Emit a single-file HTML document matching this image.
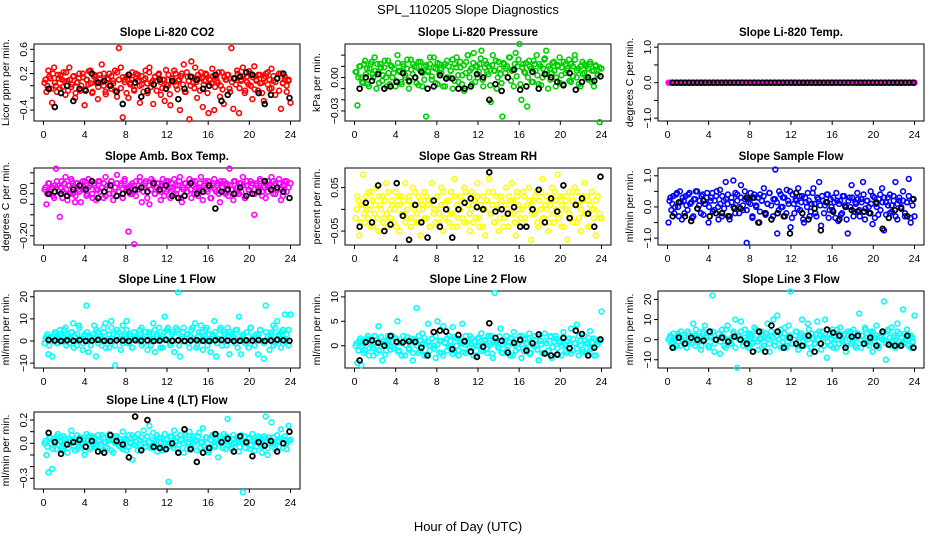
<!DOCTYPE html>
<html><head><meta charset="utf-8"><style>
html,body{margin:0;padding:0;background:#fff;}
svg{display:block;font-family:"Liberation Sans",Arial,sans-serif;}
</style></head><body>
<svg id="c" width="936" height="540" viewBox="0 0 936 540" xmlns="http://www.w3.org/2000/svg">
<rect width="936" height="540" fill="#fff"/>
<text x="468" y="14" text-anchor="middle" font-size="13">SPL_110205  Slope Diagnostics</text>
<text x="468" y="531" text-anchor="middle" font-size="13">Hour of Day (UTC)</text>
</svg>
<script>
const xTicks=[0,4,8,12,16,20,24];
const titles=["Slope Li-820 CO2","Slope Li-820 Pressure","Slope Li-820 Temp.","Slope Amb. Box Temp.","Slope Gas Stream RH","Slope Sample Flow","Slope Line 1 Flow","Slope Line 2 Flow","Slope Line 3 Flow","Slope Line 4 (LT) Flow"];
const yTitles=["Licor ppm per min.","kPa per min.","degrees C per min.","degrees C per min.","percent per min.","ml/min per min.","ml/min per min.","ml/min per min.","ml/min per min.","ml/min per min."];
const colors=["#ff0000","#00cd00","#ff00ff","#ff00ff","#ffff00","#0000ff","#00ffff","#00ffff","#00ffff","#00ffff"];
const yDomains=[[-0.58,0.687],[-0.039,0.03],[-1.08,1.09],[-0.244,0.123],[-0.082,0.095],[-1.22,1.25],[-12.2,22.6],[-4.56,11.2],[-14.1,24.2],[-0.392,0.269]];
const yTickVals=[[-0.4,-0.2,0,0.2,0.4,0.6],[-0.03,-0.02,-0.01,0,0.01,0.02],[-1,-0.5,0,0.5,1],[-0.2,-0.15,-0.1,-0.05,0,0.05,0.1],[-0.05,0,0.05],[-1,-0.5,0,0.5,1],[-10,0,10,20],[0,5,10],[-10,0,10,20],[-0.3,-0.2,-0.1,0,0.1,0.2]];
const yTickLabels=[{"-0.4":"\u22120.4","0.2":"0.2","0.6":"0.6"},{"-0.03":"\u22120.03","0":"0.00"},{"-1":"\u22121.0","0":"0.0","1":"1.0"},{"-0.2":"\u22120.20","0":"0.00"},{"-0.05":"\u22120.05","0.05":"0.05"},{"-1":"\u22121.0","0":"0.0","1":"1.0"},{"-10":"\u221210","0":"0","10":"10","20":"20"},{"0":"0","5":"5","10":"10"},{"-10":"\u221210","0":"0","10":"10","20":"20"},{"-0.3":"\u22120.3","0":"0.0","0.2":"0.2"}];

const co2=[0.05,-0.1,0.25,0.12,-0.28,0.3,0.0,0.18,-0.05,0.1,0.22,-0.15,0.08,0.3,-0.02,0.15,-0.2,0.05,0.12,-0.08,0.2,-0.32,0.1,0.02,0.25,-0.12,0.15,0.05,-0.22,0.18,0.35,0.0,-0.1,0.12,0.2,-0.05,0.08,0.25,-0.18,0.62,0.3,-0.52,0.1,0.15,-0.2,0.05,0.22,-0.08,0.12,0.18,-0.28,0.02,0.1,0.25,-0.12,0.3,0.05,-0.3,0.15,0.08,0.2,-0.15,0.1,-0.25,0.02,0.18,-0.32,0.12,0.25,0.0,0.08,-0.4,0.2,0.35,-0.1,0.15,-0.55,0.4,0.05,0.3,-0.2,0.12,0.22,-0.35,0.08,0.18,-0.45,0.1,0.28,-0.4,0.15,0.05,-0.18,0.22,-0.3,0.1,0.18,-0.05,0.62,-0.38,0.12,0.25,-0.45,0.08,0.3,-0.12,0.15,0.02,0.2,-0.22,0.32,0.1,-0.08,0.18,0.05,-0.25,0.15,0.22,-0.05,0.28,0.08,-0.15,0.12,0.2,-0.38,0.05,0.15,-0.1,0.1,-0.28];
const co2B=[0.1,0.0,0.15,-0.05,0.2,0.05,-0.1,0.12,0.18,-0.02,0.08,0.22,-0.08,0.1,0.02,0.16,-0.12,0.06,0.2,0.0,0.14,-0.06,0.1,0.24,0.04,-0.1,0.18,0.08,-0.02,0.12,0.06,0.2,-0.14,0.1,0.0,0.16,0.04,-0.08,0.22,0.1,-0.04,0.14,0.06,-0.12,0.18,0.02,0.1,-0.06,0.2,0.08,0.0,0.16,-0.1,0.12,0.04,0.22,-0.02,0.08,0.14,-0.08,0.18,0.06,-0.04,0.1,0.26,0.0,-0.14,0.12,0.06,0.2,-0.06,0.1,0.16,0.02,-0.1,0.22,0.08,0.0,0.14,-0.04,0.06,0.18,-0.08,0.12,0.02,0.2,-0.12,0.1,0.04,0.16,-0.02,0.08,0.22,0.0,-0.06,0.14,0.1,0.18,-0.1,0.06,0.12,0.02,0.2,-0.04,0.1,0.16,-0.08,0.06,0.24,0.0,0.14,-0.06,0.08,0.18,0.04,-0.12,0.12,0.2,0.02,0.1,-0.04,0.16,0.06,0.12,-0.08,0.2,0.04,0.1,0.0,0.08];
const co2Black=[-0.05,-0.35,-0.12,0.0,-0.25,-0.05,-0.08,0.2,0.05,0.08,0.0,-0.1,-0.3,0.18,0.05,-0.18,-0.08,0.02,0.1,-0.05,0.08,-0.22,-0.05,0.15,0.1,-0.05,0.0,0.18,-0.25,-0.15,0.12,0.15,0.22,0.18,-0.12,-0.3,-0.15,0.12,0.2,-0.2];
const pres=[0.005,-0.025,0.01,0.0,-0.005,0.015,0.008,-0.008,0.012,0.003,0.018,-0.01,0.005,0.012,-0.003,0.009,0.0,0.015,-0.006,0.01,0.004,-0.008,0.02,0.006,-0.004,0.012,0.0,0.008,-0.01,0.016,0.003,0.01,-0.005,0.014,0.006,-0.008,0.01,-0.035,0.005,0.012,-0.002,0.018,0.008,-0.006,0.012,0.004,0.01,-0.008,0.015,0.0,0.006,-0.01,0.012,0.018,-0.004,0.009,0.002,-0.012,0.014,0.02,0.006,-0.006,0.022,0.01,0.0,0.012,0.024,-0.008,0.015,0.005,0.01,-0.022,0.02,0.006,-0.01,0.014,0.003,-0.035,0.012,0.008,0.0,0.018,0.006,-0.008,0.022,0.01,0.03,-0.02,0.012,0.004,-0.026,0.015,0.008,-0.004,0.012,0.02,-0.006,0.01,0.0,0.016,0.024,-0.01,0.008,0.004,0.014,-0.008,0.01,0.018,0.002,-0.006,0.012,0.006,0.016,-0.004,0.01,0.02,0.0,0.008,-0.008,0.014,0.004,0.01,-0.002,0.012,0.006,-0.008,0.01,0.003,-0.04,0.008];
const presB=[0.005,0.0,0.01,-0.004,0.012,0.003,-0.006,0.008,0.014,0.0,0.006,0.012,-0.005,0.009,0.002,0.015,-0.008,0.004,0.011,0.0,0.008,-0.003,0.013,0.005,-0.006,0.01,0.002,0.016,-0.004,0.007,0.012,0.0,0.009,-0.007,0.014,0.004,-0.002,0.011,0.006,0.018,0.001,0.009,-0.005,0.013,0.004,0.008,-0.008,0.012,0.0,0.01,0.006,0.016,-0.003,0.009,0.002,0.014,-0.006,0.011,0.004,0.02,0.0,0.008,0.013,-0.004,0.01,0.005,0.017,-0.002,0.009,0.012,0.003,-0.007,0.011,0.006,0.015,0.0,0.008,-0.005,0.013,0.004,0.01,0.018,-0.003,0.007,0.012,0.001,0.016,-0.006,0.009,0.005,0.013,0.0,0.01,-0.004,0.015,0.006,0.002,0.012,-0.007,0.008,0.017,0.003,0.01,-0.002,0.013,0.006,0.0,0.011,-0.005,0.009,0.014,0.004,0.008,-0.003,0.012,0.001,0.016,0.006,-0.006,0.01,0.003,0.012,0.0,0.008,0.014,-0.004,0.006,0.011,0.002,0.009];
const presBlack=[-0.01,0.0,-0.003,0.003,-0.01,-0.008,-0.004,0.004,-0.003,0.0,0.005,-0.01,-0.008,0.002,-0.001,-0.001,-0.01,-0.01,-0.008,0.003,0.0,-0.02,-0.006,-0.012,0.0,0.007,-0.011,-0.008,0.005,-0.01,0.003,0.0,-0.004,-0.007,0.004,-0.011,-0.004,0.0,-0.003,0.001];
const tempLi=[0,0,0,0,0,0,0,0,0,0,0,0,0,0,0,0,0,0,0,0,0,0,0,0,0,0,0,0,0,0,0,0,0,0,0,0,0,0,0,0,0,0,0,0,0,0,0,0,0,0,0,0,0,0,0,0,0,0,0,0,0,0,0,0,0,0,0,0,0,0,0,0,0,0,0,0,0,0,0,0];
const tempLiB=[0,0,0,0,0,0,0,0,0,0,0,0,0,0,0,0,0,0,0,0,0,0,0,0,0,0,0,0,0,0,0,0,0,0,0,0,0,0,0,0,0,0,0,0,0,0,0,0,0,0,0,0,0,0,0,0,0,0,0,0,0,0,0,0,0,0,0,0,0,0,0,0,0,0,0,0,0,0,0,0];
const tempLiBlack=[0,0,0,0,0,0,0,0,0,0,0,0,0,0,0,0,0,0,0,0,0,0,0,0,0,0,0,0,0,0,0,0,0,0,0,0,0,0,0,0,0,0,0,0,0,0,0,0,0,0,0,0,0,0,0,0,0,0,0,0];
const amb=[0.02,-0.05,0.05,0.0,0.03,-0.02,0.12,0.04,-0.11,0.06,0.01,0.08,-0.03,0.04,0.07,0.0,-0.04,0.05,0.02,-0.04,0.06,0.03,-0.01,0.07,0.04,0.0,0.05,-0.03,0.02,0.06,0.03,-0.02,0.08,0.04,0.0,0.06,-0.03,0.03,0.09,0.01,0.05,-0.02,0.07,0.03,-0.18,0.04,0.0,-0.24,0.06,0.02,0.08,-0.04,0.03,0.06,0.01,-0.05,0.07,0.04,0.0,0.05,0.02,-0.03,0.07,0.04,0.01,0.06,-0.02,0.03,0.07,0.0,0.04,0.08,-0.04,0.02,0.05,0.01,0.07,-0.02,0.04,0.06,0.0,0.03,0.08,-0.03,0.05,0.02,0.06,-0.02,0.04,0.07,0.01,0.05,-0.04,0.03,0.06,0.0,0.04,0.12,0.02,-0.03,0.06,0.03,0.0,0.05,0.08,-0.02,0.04,0.02,0.06,0.0,-0.1,0.05,0.03,0.07,0.01,0.04,-0.02,0.06,0.03,0.08,0.0,0.05,0.02,0.07,-0.03,0.04,0.06,0.01,0.03,0.05];
const ambB=[0.03,0.0,0.05,0.02,-0.01,0.04,0.06,0.01,0.03,-0.02,0.05,0.02,0.04,0.0,0.06,0.03,-0.01,0.05,0.01,0.04,0.02,0.06,0.0,0.03,0.05,-0.02,0.04,0.02,0.06,0.01,0.03,0.05,-0.01,0.04,0.02,0.06,0.0,0.03,0.05,0.01,0.04,-0.02,0.06,0.02,0.03,0.0,0.05,0.04,-0.01,0.02,0.06,0.03,0.01,0.05,-0.02,0.04,0.02,0.06,0.0,0.03,0.05,0.01,0.04,-0.01,0.06,0.02,0.03,0.05,0.0,0.04,0.02,0.06,-0.02,0.03,0.05,0.01,0.04,0.02,0.06,0.0,0.03,-0.01,0.05,0.02,0.04,0.06,0.01,0.03,-0.02,0.05,0.02,0.04,0.0,0.06,0.03,0.01,0.05,-0.01,0.04,0.02,0.06,0.0,0.03,0.05,0.01,0.04,-0.02,0.06,0.02,0.03,0.05,0.0,0.04,0.02,0.06,-0.01,0.03,0.05,0.01,0.04,0.02,0.06,0.0,0.03,0.05,0.02,-0.01,0.04,0.06,0.03];
const ambBlack=[0.0,0.01,0.0,-0.01,0.02,0.04,0.02,0.06,-0.02,0.01,0.04,-0.01,0.0,0.01,0.02,0.03,0.01,0.05,0.02,0.04,-0.01,-0.02,-0.01,0.05,0.0,0.01,0.04,-0.07,0.01,0.02,0.0,0.03,-0.01,0.0,0.01,0.06,0.02,0.03,0.01,-0.02];
const rh=[-0.02,0.03,-0.06,0.01,0.08,-0.03,0.0,0.04,-0.04,0.02,-0.01,0.05,-0.05,0.01,0.03,-0.02,0.06,-0.04,0.0,0.02,-0.03,0.04,0.01,-0.05,0.03,-0.01,0.06,-0.02,0.02,-0.04,0.05,0.0,-0.03,0.03,-0.06,0.01,0.04,-0.02,0.02,-0.04,0.06,0.0,-0.03,0.03,-0.01,0.05,-0.05,0.01,0.02,-0.03,0.04,-0.01,0.07,-0.04,0.0,0.03,-0.02,0.05,-0.03,0.01,-0.05,0.04,0.02,-0.02,0.06,-0.04,0.0,0.03,-0.06,0.02,0.07,-0.01,0.04,-0.03,0.01,-0.05,0.03,0.0,-0.02,0.05,-0.04,0.02,0.06,-0.01,-0.06,0.03,0.0,-0.03,0.04,-0.02,0.01,0.05,-0.07,0.02,-0.01,0.04,-0.04,0.0,0.07,-0.02,0.03,-0.05,0.01,0.05,-0.03,0.02,0.08,-0.01,-0.04,0.03,0.0,-0.07,0.04,-0.02,0.02,0.05,-0.03,0.01,-0.05,0.03,0.06,-0.01,0.02,-0.04,0.04,0.0,-0.06,0.03,-0.02,-0.02];
const rhB=[0.0,0.02,-0.03,0.01,-0.01,0.03,-0.02,0.0,0.04,-0.04,0.01,-0.02,0.03,0.0,-0.03,0.02,-0.01,0.04,-0.02,0.01,0.0,-0.04,0.03,0.01,-0.01,0.02,-0.03,0.0,0.03,-0.02,0.01,0.04,-0.01,-0.03,0.02,0.0,-0.02,0.03,0.01,-0.04,0.02,-0.01,0.0,0.03,-0.03,0.01,0.04,-0.02,0.0,0.02,-0.01,-0.04,0.03,0.01,-0.02,0.0,0.02,-0.03,0.04,0.01,-0.01,0.0,-0.03,0.02,0.03,-0.02,0.01,-0.04,0.0,0.02,0.04,-0.01,0.01,-0.03,0.03,0.0,-0.02,0.02,-0.04,0.01,0.0,0.03,-0.01,0.02,-0.03,0.04,0.01,-0.02,0.0,0.03,-0.04,0.01,0.02,-0.01,0.0,0.03,-0.03,0.02,0.04,-0.02,0.01,0.0,-0.03,0.02,-0.01,0.04,0.0,-0.02,0.03,0.01,-0.04,0.02,0.0,-0.01,0.03,-0.03,0.01,0.04,-0.02,0.0,0.02,-0.01,0.03,-0.04,0.01,0.0,-0.02,0.02,0.03,-0.01];
const rhBlack=[-0.04,0.015,-0.03,0.055,-0.05,-0.035,0.06,-0.015,-0.07,0.01,-0.03,-0.065,0.02,-0.04,0.0,-0.065,0.0,0.015,0.025,0.005,0.0,0.085,-0.005,0.0,-0.01,0.005,-0.04,-0.04,0.0,0.045,-0.03,0.025,-0.005,0.055,-0.02,0.01,0.025,-0.01,-0.04,0.075];
const sample=[-0.5,0.3,0.1,-0.2,0.4,0.0,0.5,-0.4,0.2,0.35,-0.1,0.45,0.15,-0.3,0.25,0.5,0.05,-0.2,0.4,0.1,0.3,-0.5,0.2,0.45,-0.1,0.35,0.0,0.55,-0.3,0.2,0.8,0.1,-0.4,0.3,0.85,-0.2,0.4,0.0,0.7,-0.1,0.25,-1.15,0.15,0.45,-0.3,0.3,0.05,-0.5,0.4,0.2,0.6,-0.2,0.1,0.45,-0.4,0.25,1.2,-0.85,0.5,0.0,0.3,-0.3,0.55,0.1,-0.65,0.4,-0.2,0.2,0.6,-0.1,0.35,-0.5,0.15,0.45,-0.3,0.1,0.6,-0.2,0.3,0.8,-0.6,0.2,0.05,0.4,-0.35,0.25,-0.1,0.15,0.45,-0.45,0.2,-0.2,0.35,0.0,-0.85,0.3,0.7,-0.3,0.15,0.45,-0.1,0.25,0.8,-0.4,0.2,0.0,0.5,-0.55,0.3,0.1,-0.25,0.4,0.6,-0.75,0.15,0.3,-0.2,0.05,0.35,0.8,-0.4,0.2,0.0,0.5,-0.3,0.15,0.9,-0.5,0.25,-0.3];
const sampleB=[0.2,-0.1,0.35,0.0,0.45,-0.3,0.15,0.3,-0.2,0.05,0.4,0.1,-0.35,0.25,0.5,-0.05,0.2,0.35,-0.25,0.1,0.45,0.0,0.3,-0.15,0.2,0.5,-0.4,0.1,0.35,-0.05,0.25,0.4,-0.3,0.15,0.0,0.45,0.2,-0.2,0.3,0.05,0.5,-0.1,0.25,0.1,-0.35,0.4,0.0,0.3,-0.15,0.2,0.35,-0.25,0.1,0.45,0.05,-0.3,0.25,0.15,-0.1,0.4,0.0,0.3,-0.2,0.2,0.5,-0.35,0.1,0.25,-0.05,0.35,0.15,-0.4,0.3,0.0,0.2,-0.15,0.45,0.1,-0.3,0.25,0.05,0.35,-0.2,0.15,0.4,-0.1,0.0,0.3,-0.35,0.2,0.1,-0.25,0.35,0.05,-0.4,0.2,0.0,0.3,-0.15,0.1,0.25,-0.3,0.15,0.4,-0.05,0.2,-0.2,0.1,0.35,-0.35,0.0,0.25,-0.1,0.15,0.3,-0.25,0.05,0.4,-0.15,0.2,-0.3,0.1,0.3,-0.05,0.2,-0.2,0.15,0.35,-0.35,0.05];
const sampleBlack=[-0.3,0.15,-0.3,-0.45,-0.05,0.2,-0.3,-0.2,-0.2,-0.3,-0.05,-0.05,0.3,0.3,-0.5,-0.2,-0.4,-0.2,-0.3,-0.85,0.45,-0.2,-0.4,-0.05,-0.75,0.15,-0.15,-0.4,0.0,-0.1,-0.15,-0.15,-0.2,0.15,-0.7,-0.35,-0.1,-0.05,-0.3,0.25];
const line1=[-1,2,-6,0,-7,3,1,-1,5,2,0,6,3,-1,4,8,2,-2,7,1,-4,3,16,-5,2,0,7,-7,4,1,-2,6,8,0,-3,9,3,-11,5,1,-4,7,2,9,-1,3,-3,4,0,2,5,-2,1,4,-4,3,0,8,-5,2,6,1,-3,11,5,0,-2,4,-5,6,22,-7,2,6,0,3,-3,5,1,8,-2,4,7,-4,2,6,0,-5,3,9,-7,1,5,-2,4,0,6,-6,3,2,-1,5,11,-6,2,0,4,-3,6,1,-2,3,-6,5,0,-8,16,2,-4,4,7,-1,9,3,-3,5,12,0,-2,12];
const line1B=[1,3,-2,0,2,4,-1,1,3,0,5,-2,2,1,4,-3,0,3,6,1,-1,2,4,0,-2,3,1,5,-1,2,0,4,-3,1,3,6,0,-2,2,4,1,-1,3,5,0,2,-3,4,1,0,3,6,-1,2,0,4,-2,1,5,3,0,-3,2,4,1,6,-1,3,0,2,5,-2,1,4,0,3,-1,2,6,1,-3,2,0,4,1,5,-2,3,0,2,4,-1,1,6,0,3,-2,2,4,1,0,5,-3,2,1,3,-1,4,0,6,2,-2,1,3,5,0,-1,4,2,1,3,-2,6,0,2,4,-1,1,3,5];
const line1Black=[0.5,0.2,0,0.3,0.1,0.4,0,0.2,0.5,0.1,0,0.3,0.2,0,0.4,0.1,0.3,0,0.2,0.5,0.1,0.3,0,0.2,0.4,0.1,0,0.3,0.5,0.2,0,0.1,0.3,0.2,0.4,0,0.2,0.6,0.3,0.1];
const line2=[0,-3.5,1,-4,0.5,-1,1.5,-2,0.8,-0.5,2,-1.5,4,0.5,-3,1,-1,2,0,0.8,-0.5,1.5,5,-1,0.5,2,-2,1,-0.8,1.5,-3,0.5,7.7,-1.5,1,2.5,-2,0.3,4.5,-1,1.5,0,-2.5,5,1,-1.5,4,0.5,-1,2,0,3.8,-1,1.5,-2,0.8,4.5,0.2,-1.5,1,2,-0.5,0.8,-2,1.5,0,2.5,-1,1,-1.5,0.5,2,-2.5,10.8,1,-0.5,3.5,-1.5,0.8,2,0,-2,1.5,2.8,-1,0.5,2,-2.5,0.3,1.5,-0.8,2.5,-1.5,0.5,2,0,-3,1,-1.5,2.5,0.5,-1,1.8,-2.5,0.8,2,-0.5,1,-2,2.8,0.2,-1.5,1.5,3.5,-1,0.5,4.3,-2,1,-0.8,2,-1.5,0.5,3,-0.5,1.5,-2,0.8,1,7];
const line2B=[0.5,-1,1.5,0,-1.5,1,2,-0.5,0.8,-2,1.2,0,-1,1.8,0.3,-1.8,1,0.5,-0.8,2,0,1.5,-1.2,0.6,-2,1,0.2,1.8,-0.5,0.9,-1.5,1.3,0,2,-1,0.4,1.6,-1.8,0.8,0,1.4,-0.6,2,0.2,-1.4,1,-2,0.7,1.5,-0.3,0.9,-1.7,1.8,0,-0.9,1.2,0.4,-1.3,2,0.6,-0.4,1.5,-2,0.8,0,1.7,-1.1,0.5,1.2,-0.7,2,0.1,-1.6,1,0.6,-0.2,1.9,-1.4,0.3,1.1,-0.9,0.7,1.6,-2,0.2,1.3,-0.5,0.9,2,-1.2,0.4,1.5,-1.7,0.8,0,1.2,-0.8,1.8,0.3,-1.5,1,0.5,-1,2,-0.3,0.8,1.4,-1.9,0.6,0,1.7,-1.1,0.9,0.2,-1.6,1.3,0.5,-0.6,2,0.1,-1.3,1,0.4,1.6,-0.8,0.7,-2,1.2,0.3,0.9];
const line2Black=[-3,0.7,1.1,0.6,0,2,0.8,0.7,0.9,0.8,-0.4,-2,2.8,3.1,2.9,-0.7,2.2,0.9,-1.2,-2.3,-0.2,4.6,1.6,1,-1.4,0.6,1.2,-1,0.5,2.3,-1.6,-2,-1.8,1.6,-0.5,3.1,2.4,-2,-0.4,1.3];
const line3=[0,2,-1,-4,1,3,-3,0,2,-2,4,-1,1,8,-3,2,0,-5,4,7,1,-3,2,22,-6,0,3,-7,5,1,-4,7,0,-2,4,10,-14,2,9,-3,5,0,-4,3,-1,6,2,-5,0,4,-3,1,8,-6,2,10,-1,12,3,-4,1,6,-3,7,24,-2,0,4,-5,2,10,-3,1,8,-7,3,0,-2,9,4,-5,1,10,-9,2,-3,5,0,-4,3,6,-1,2,-6,4,0,-2,5,-3,1,13,-4,2,6,-2,0,4,-6,1,7,-3,2,0,19,-10,4,-2,6,1,-4,8,3,-2,15,0,5,-3,2,-1,12];
const line3B=[1,-2,3,0,-3,2,4,-1,1,-4,3,0,-2,2,5,-1,1,-3,3,0,2,-4,1,4,-2,0,3,-1,2,-3,5,0,-2,1,3,-4,2,0,4,-1,1,-3,3,2,-2,0,5,-1,1,-4,2,3,0,-2,4,1,-3,2,0,5,-1,3,-4,1,2,-2,0,4,-3,1,3,-1,2,0,5,-4,1,-2,3,0,2,4,-3,1,-1,3,0,-4,2,5,-2,1,0,3,-3,2,4,-1,1,-4,3,0,2,-2,5,1,-3,0,4,-1,2,-4,1,3,0,-2,5,1,-3,2,0,4,-1,1,-2,3,0,2,-4,1];
const line3Black=[-4,1,-2,1,0,-0.5,4,0,1,-1,1.5,0,-2,-6,4,-6,7,4,-4,1,-2,-3,2,-6,-2,5,3.5,2,-4,1.5,2,-2,1,-3,4,-2.5,-3,-3,2,-4];
const line4=[0.0,-0.1,-0.25,0.05,-0.22,0.03,-0.05,0.08,0.02,-0.04,0.06,0.0,-0.08,0.04,0.11,0.02,-0.06,0.07,-0.03,0.05,0.01,-0.1,0.08,0.03,-0.05,0.06,0.0,-0.03,0.07,0.02,-0.06,0.05,0.01,-0.04,0.08,0.03,-0.08,0.06,0.0,0.04,-0.03,0.1,0.02,-0.06,0.07,0.01,-0.14,0.05,-0.02,0.08,0.03,-0.05,0.11,0.0,0.06,0.15,-0.03,0.09,0.02,-0.07,0.05,0.01,-0.04,0.08,0.03,-0.33,0.06,-0.02,0.11,0.01,-0.05,0.07,0.03,-0.08,0.05,0.0,0.1,-0.04,0.06,0.02,-0.06,0.09,0.01,0.13,-0.03,0.05,-0.08,0.03,0.07,-0.02,0.04,-0.12,0.06,0.0,0.08,-0.05,0.21,0.02,-0.04,0.07,0.01,0.05,-0.07,0.03,-0.42,0.06,0.0,0.04,-0.05,0.08,0.02,-0.03,0.06,0.01,-0.08,0.04,0.23,-0.1,0.05,0.18,0.0,-0.05,0.07,0.02,0.12,-0.04,0.06,0.0,0.15,0.03];
const line4B=[0.02,-0.03,0.05,0.0,-0.05,0.03,0.06,-0.01,0.01,-0.06,0.04,0.0,-0.04,0.02,0.07,-0.02,0.01,-0.05,0.05,0.0,0.03,-0.06,0.02,0.06,-0.03,0.0,0.05,-0.01,0.03,-0.04,0.07,0.01,-0.03,0.02,0.04,-0.06,0.03,0.0,0.06,-0.02,0.01,-0.05,0.04,0.03,-0.03,0.0,0.07,-0.01,0.02,-0.06,0.03,0.05,0.0,-0.03,0.06,0.01,-0.04,0.03,0.0,0.07,-0.02,0.04,-0.06,0.01,0.03,-0.03,0.0,0.06,-0.04,0.02,0.05,-0.01,0.03,0.0,0.07,-0.05,0.01,-0.03,0.04,0.0,0.02,0.06,-0.04,0.01,-0.02,0.05,0.0,-0.06,0.03,0.07,-0.03,0.02,0.0,0.04,-0.04,0.03,0.06,-0.01,0.01,-0.05,0.04,0.0,0.02,-0.03,0.07,0.01,-0.04,0.0,0.05,-0.02,0.03,-0.06,0.01,0.04,0.0,-0.03,0.06,0.02,-0.04,0.03,0.0,0.05,-0.01,0.02,-0.03,0.04,0.0,0.03,-0.05,0.02];
const line4Black=[0.09,0.01,-0.09,-0.01,0.01,0.03,-0.03,0.02,-0.07,-0.08,0.07,0.02,-0.01,-0.12,0.23,-0.06,0.2,-0.03,-0.04,-0.05,0.0,-0.08,0.12,-0.05,-0.16,-0.08,-0.04,0.08,0.01,0.04,-0.07,0.06,0.01,-0.11,0.01,-0.02,0.02,-0.07,0.0,0.1];

const colorSeries=[co2,pres,tempLi,amb,rh,sample,line1,line2,line3,line4];
const colorSeriesB=[co2B,presB,tempLiB,ambB,rhB,sampleB,line1B,line2B,line3B,line4B];
const blackSeries=[co2Black,presBlack,tempLiBlack,ambBlack,rhBlack,sampleBlack,line1Black,line2Black,line3Black,line4Black];

const NS="http://www.w3.org/2000/svg";
const svg=document.getElementById('c');
const colLeft=[34,345,658], rowTop=[44,168,291,412], W=266, H=77;
function mk(tag,attrs,parent){const e=document.createElementNS(NS,tag);for(const k in attrs)e.setAttribute(k,attrs[k]);parent.appendChild(e);return e;}
function slug(s){return s.toLowerCase().replace(/[^a-z0-9]+/g,'-').replace(/^-|-$/g,'');}

titles.forEach((t,p)=>{
  const L=colLeft[p%3], T=rowTop[Math.floor(p/3)];
  const g=mk('g',{},svg);
  
  
  const x=h=>L+9.5+(h/24)*(W-19);
  const [y0,y1]=yDomains[p];
  const y=v=>T+H-(v-y0)/(y1-y0)*H;
  const tt=mk('text',{x:L+W/2,y:T-8,'text-anchor':'middle','font-size':'11.5','font-weight':'bold'},g);
  tt.textContent=t;
  
  
  const yt=mk('text',{transform:`translate(${L-25},${T+H/2}) rotate(-90)`,'text-anchor':'middle','font-size':'10.5'},g);
  yt.textContent=yTitles[p];
  
  
  const xa=mk('g',{},g);
  
  
  mk('line',{x1:x(0),x2:x(24),y1:T+H,y2:T+H,stroke:'#000'},xa);
  xTicks.forEach(v=>{
    mk('line',{x1:x(v),x2:x(v),y1:T+H,y2:T+H+4,stroke:'#000'},xa);
    const lb=mk('text',{x:x(v),y:T+H+17,'text-anchor':'middle','font-size':'10.5'},xa);
    lb.textContent=String(v);
    
    
  });
  const ya=mk('g',{},g);
  
  
  const tv=yTickVals[p];
  mk('line',{x1:L,x2:L,y1:y(tv[0]),y2:y(tv[tv.length-1]),stroke:'#000'},ya);
  tv.forEach(v=>{
    mk('line',{x1:L-4,x2:L,y1:y(v),y2:y(v),stroke:'#000'},ya);
    const key=String(v);
    if(yTickLabels[p][key]!==undefined){
      const lb=mk('text',{transform:`translate(${L-7},${y(v)}) rotate(-90)`,'text-anchor':'middle','font-size':'10.5'},ya);
      lb.textContent=yTickLabels[p][key];
      
      
    }
  });
  const bx=mk('rect',{x:L,y:T,width:W,height:H,fill:'none',stroke:'#000'},g);
  
  
  const cg=mk('g',{fill:'none',stroke:colors[p],'stroke-width':'1.6'},g);
  
  
  const cs=colorSeries[p], n=cs.length;
  cs.forEach((v,i)=>{
    const c=mk('circle',{cx:x(0.1+i*23.9/(n-1)),cy:y(v),r:2.4},cg);
    
    
  });
  const cb=colorSeriesB[p], nb=cb.length;
  cb.forEach((v,i)=>{
    const c=mk('circle',{cx:x(0.1+(i+0.5)*23.8/nb),cy:y(v),r:2.4},cg);
    
    
  });
  const bs=blackSeries[p], m=bs.length;
  const bg=mk('g',{fill:'none',stroke:'#000','stroke-width':'1.8'},g);
  
  
  bs.forEach((v,i)=>{
    const c=mk('circle',{cx:x(0.5+i*23.4/(m-1)),cy:y(v),r:2.4},bg);
    
    
  });
});
</script>
</body></html>
